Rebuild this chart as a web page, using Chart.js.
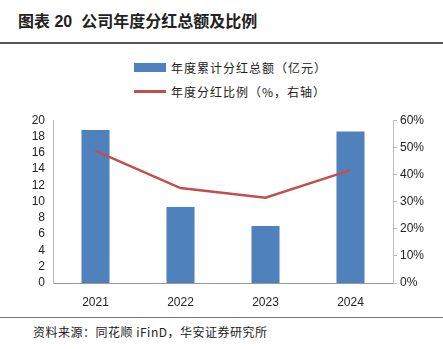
<!DOCTYPE html>
<html>
<head>
<meta charset="utf-8">
<script src="https://cdn.jsdelivr.net/npm/chart.js@4"></script>
<style>
  body { margin: 0; width: 443px; height: 349px; background: #fff; position: relative; overflow: hidden;
         font-family: "Liberation Sans", Arial, "Noto Sans CJK SC", sans-serif; }
  #title { position: absolute; left: 18px; top: 8px; font-size: 16px; font-weight: bold; color: #222;
           font-family: "Liberation Sans", "Noto Sans CJK SC", sans-serif; }
  #topline { position: absolute; left: 0; top: 42px; width: 443px; height: 2px; background: #555; }
  #legend { position: absolute; left: 134px; top: 55px; font-size: 12px; color: #222; letter-spacing: 1px;
            font-family: "Noto Sans CJK SC", sans-serif; }
  .item { height: 24px; display: flex; align-items: center; }
  .swatch { width: 32px; margin-right: 5px; }
  #chartBox { position: absolute; left: 0; top: 105px; width: 443px; height: 206px; }
  #bottomline { position: absolute; left: 0; top: 317px; width: 443px; height: 1px; background: #777; }
  #source { position: absolute; left: 33px; top: 323px; font-size: 12px; color: #222; letter-spacing: 0.5px;
            font-family: "Noto Sans CJK SC", sans-serif; }
</style>
</head>
<body>
<div id="title">图表 20&nbsp; 公司年度分红总额及比例</div>
<div id="topline"></div>
<div id="legend"></div>
<div id="chartBox"><canvas id="chart"></canvas></div>
<div id="bottomline"></div>
<div id="source">资料来源：同花顺 iFinD，华安证券研究所</div>
<script>
var years = ['2021', '2022', '2023', '2024'];
var dividendTotal = [18.8, 9.35, 7.0, 18.6];      // 亿元
var dividendRatio = [48.7, 35.0, 31.4, 41.6];     // %
var barName = '年度累计分红总额（亿元）';
var lineName = '年度分红比例（%，右轴）';
var barColor = '#4f81bd';
var lineColor = '#c0504d';

// simple HTML legend, two stacked rows like the original
var legend = document.getElementById('legend');
legend.innerHTML =
  '<div class="item"><span class="swatch" style="height:9px;background:' + barColor + '"></span>' + barName + '</div>' +
  '<div class="item"><span class="swatch" style="height:3px;background:' + lineColor + '"></span>' + lineName + '</div>';

var ctx = document.getElementById('chart').getContext('2d');
var chart = new Chart(ctx, {
  data: {
    labels: years,
    datasets: [{
      type: 'line',
      label: lineName,
      data: dividendRatio,
      yAxisID: 'yRight',
      borderColor: lineColor,
      borderWidth: 2.5,
      pointRadius: 0,
      tension: 0,
      order: 0
    }, {
      type: 'bar',
      label: barName,
      data: dividendTotal,
      yAxisID: 'yLeft',
      backgroundColor: barColor,
      barPercentage: 0.66,
      categoryPercentage: 0.5,
      order: 1
    }]
  },
  options: {
    responsive: true,
    maintainAspectRatio: false,
    animation: false,
    layout: { padding: { top: 3, left: 0, right: 0, bottom: 0 } },
    plugins: { legend: { display: false }, tooltip: { enabled: false } },
    scales: {
      x: {
        grid: { display: false },
        border: { color: '#999', width: 1 },
        ticks: { color: '#222', font: { size: 12, family: 'Liberation Sans' }, padding: 4 },
        afterFit: function (scale) { scale.height = 28; }
      },
      yLeft: {
        position: 'left',
        min: 0, max: 20,
        grid: { display: false, drawTicks: false },
        border: { color: '#bbb', width: 1 },
        ticks: { stepSize: 2, autoSkip: false, color: '#222', font: { size: 12, family: 'Liberation Sans' }, padding: 8 },
        afterFit: function (scale) { scale.width = 53; }
      },
      yRight: {
        position: 'right',
        min: 0, max: 60,
        grid: { display: true, drawOnChartArea: false, drawTicks: true, tickLength: 4, color: '#bbb' },
        border: { color: '#bbb', width: 1 },
        ticks: {
          stepSize: 10, autoSkip: false, color: '#222', font: { size: 12, family: 'Liberation Sans' }, padding: 3,
          callback: function (v) { return v + '%'; }
        },
        afterFit: function (scale) { scale.width = 50; }
      }
    }
  }
});
</script>
</body>
</html>
